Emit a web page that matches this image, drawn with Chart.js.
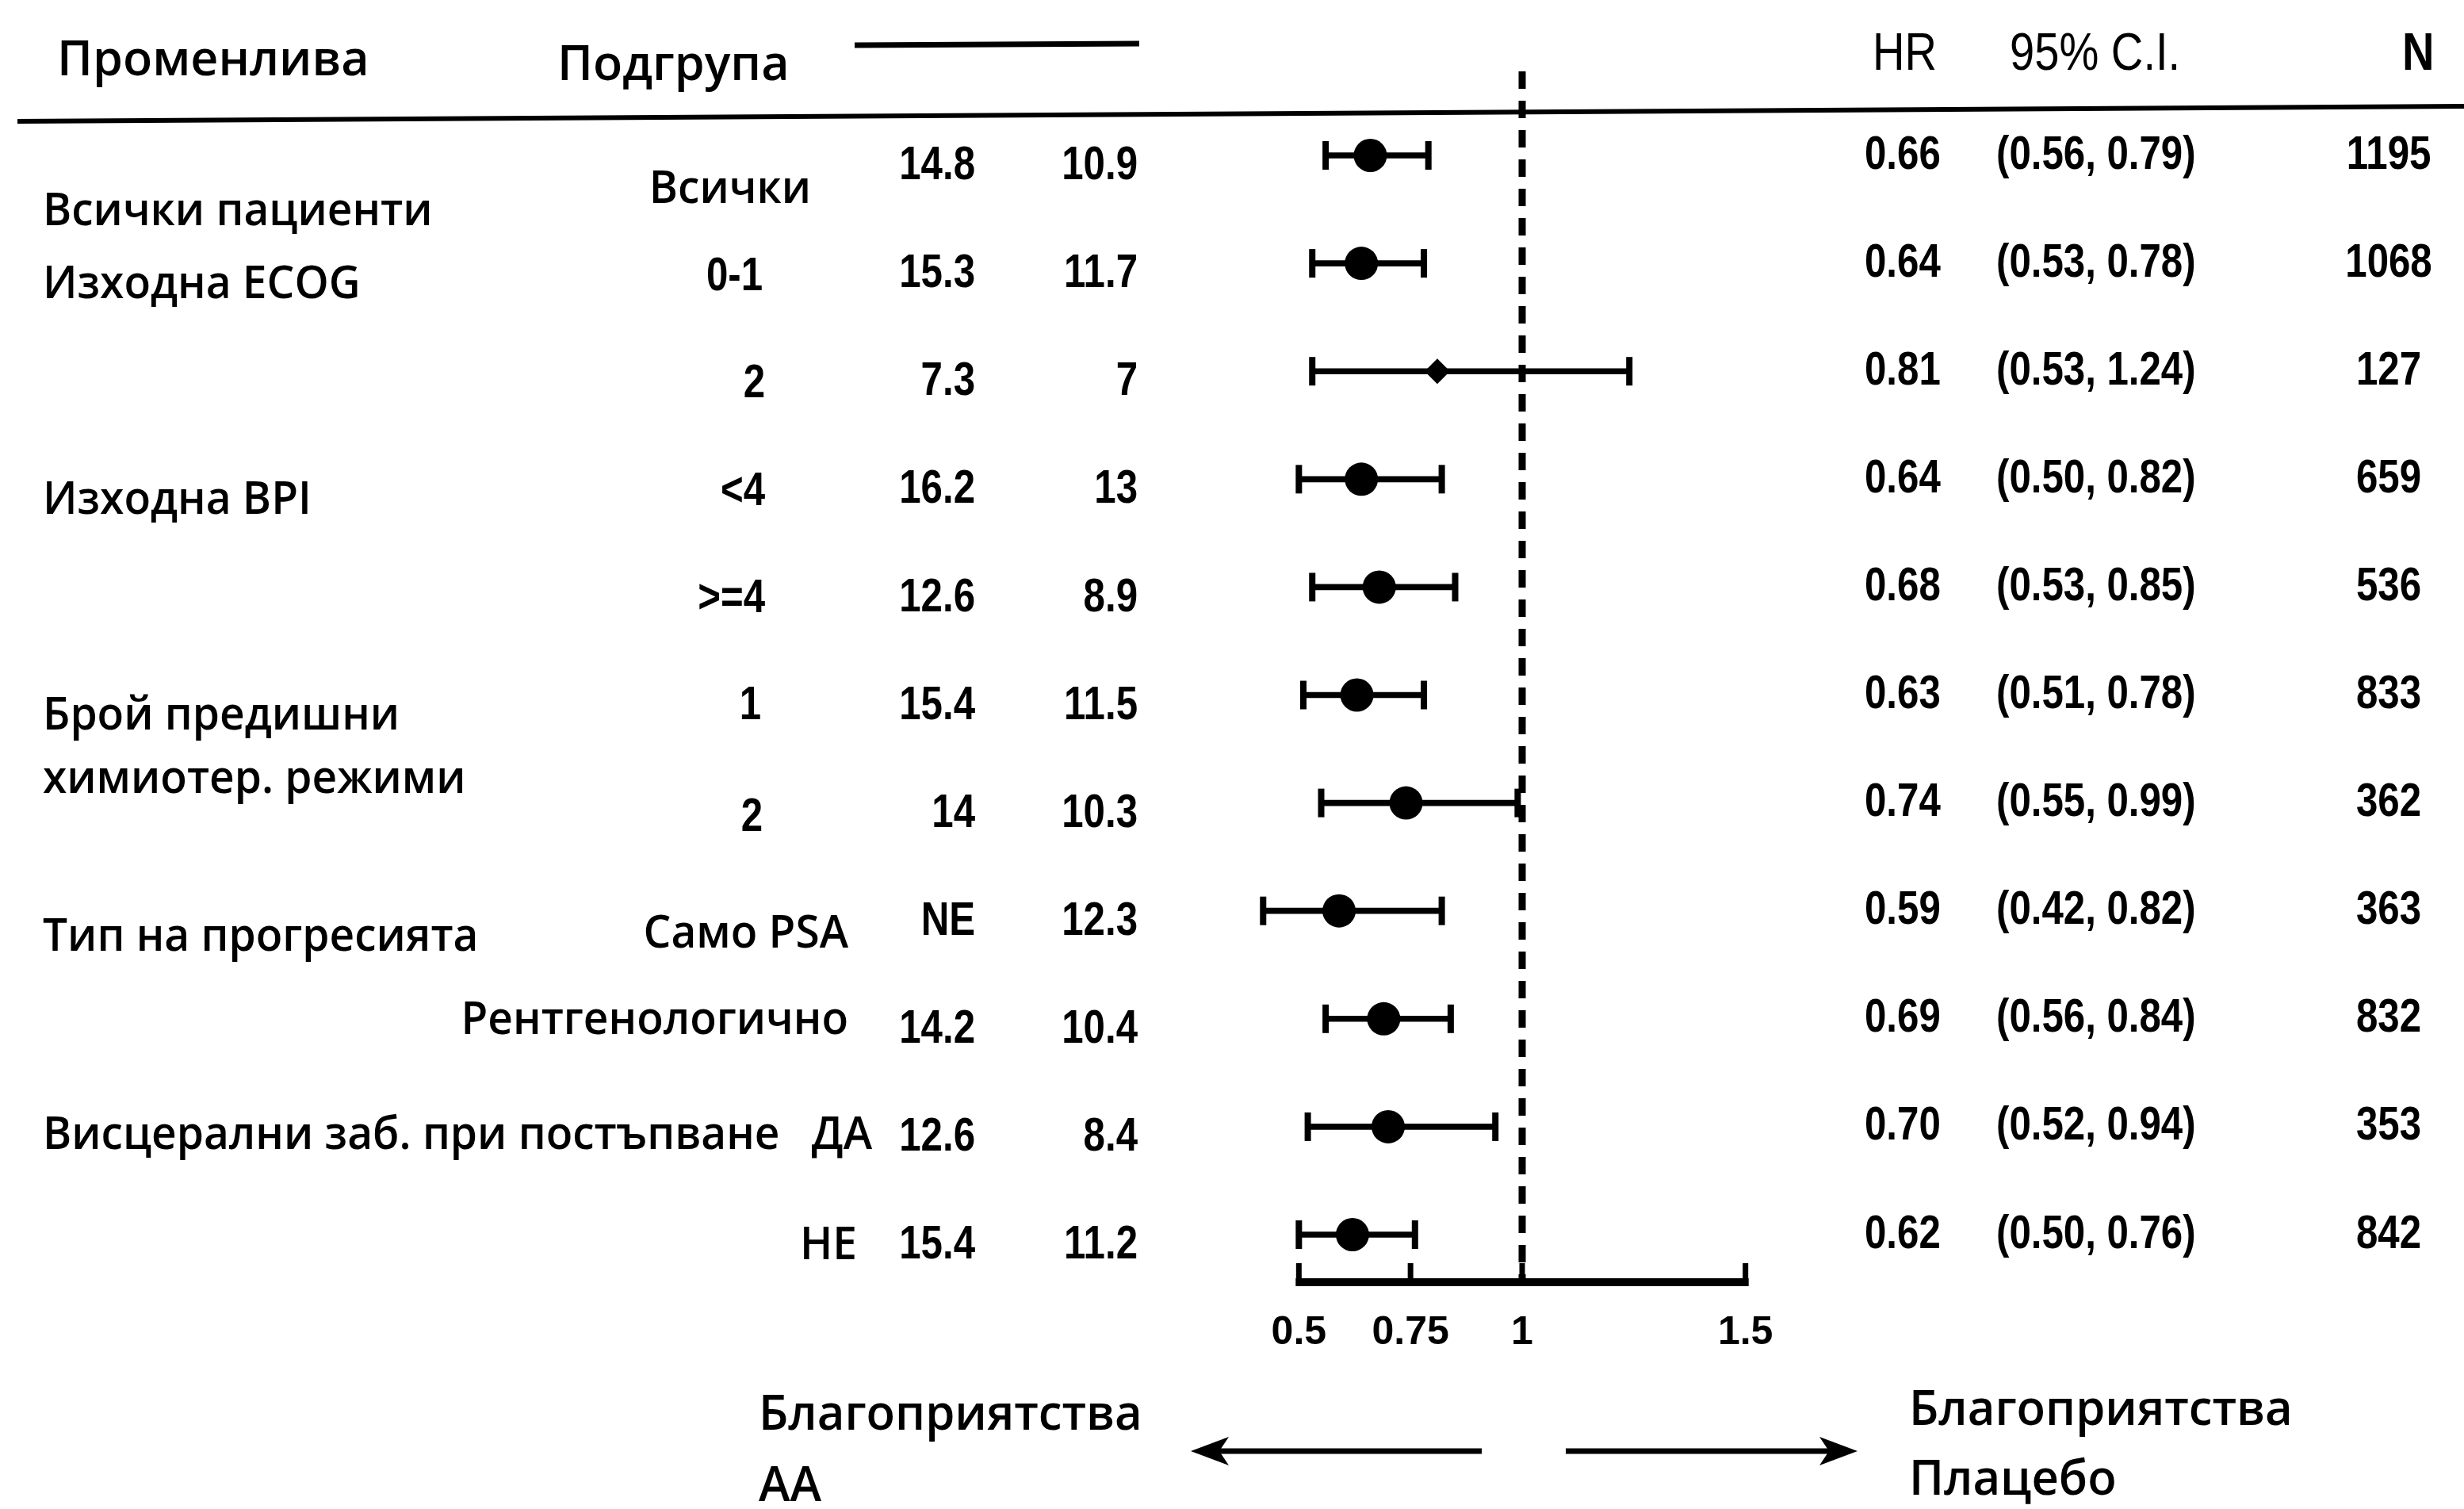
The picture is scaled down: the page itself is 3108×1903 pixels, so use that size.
<!DOCTYPE html>
<html>
<head>
<meta charset="utf-8">
<script src="https://cdn.jsdelivr.net/npm/chart.js@4.4.1/dist/chart.umd.min.js"></script>
<style>
  html, body { margin: 0; background: #fff; }
  #wrap { width: 3108px; height: 1903px; position: relative; }
</style>
</head>
<body>
<div id="wrap"><canvas id="forest"></canvas></div>
<script>
// data
const subgroups = ["Всички", "0-1", "2", "<4", ">=4", "1", "2", "Само PSA", "Рентгенологично", "ДА", "НЕ"];
const variables = ["Всички пациенти", "Изходна ECOG", "Изходна BPI", "Брой предишни", "химиотер. режими", "Тип на прогресията", "Висцерални заб. при постъпване"];
const medianAA = ["14.8", "15.3", "7.3", "16.2", "12.6", "15.4", "14", "NE", "14.2", "12.6", "15.4"];
const medianPlacebo = ["10.9", "11.7", "7", "13", "8.9", "11.5", "10.3", "12.3", "10.4", "8.4", "11.2"];
const hr = [0.66, 0.64, 0.81, 0.64, 0.68, 0.63, 0.74, 0.59, 0.69, 0.70, 0.62];
const ciLow = [0.56, 0.53, 0.53, 0.50, 0.53, 0.51, 0.55, 0.42, 0.56, 0.52, 0.50];
const ciHigh = [0.79, 0.78, 1.24, 0.82, 0.85, 0.78, 0.99, 0.82, 0.84, 0.94, 0.76];
const nPatients = [1195, 1068, 127, 659, 536, 833, 362, 363, 832, 353, 842];
const xTicks = [0.5, 0.75, 1, 1.5];

// layout only (row units / pixels)
const varRow = [0.53, 1.2, 3.2, 5.2, 5.79, 7.25, 9.09];
const subRight = [1023, 962, 965, 965, 965, 960, 962, 1070, 1070, 1100, 1081];
const subDy = [0.32, 0.13, 0.12, 0.12, 0.11, 0.1, 0.14, 0.22, 0.02, 0.09, 0.11];

const rows = hr.map((_, i) => i);
const TEXT = '"Open Sans", "Noto Sans", sans-serif';
const NUM = '"Liberation Sans", Arial, sans-serif';

function txt(ctx, s, x, y, font, align, sx) {
  ctx.save();
  ctx.font = font;
  ctx.fillStyle = '#000';
  ctx.textBaseline = 'middle';
  ctx.textAlign = align;
  ctx.translate(x, y);
  ctx.scale(sx || 1, 1);
  ctx.fillText(s, 0, 0);
  ctx.restore();
}

function line(ctx, x0, y0, x1, y1, w) {
  ctx.lineWidth = w;
  ctx.beginPath();
  ctx.moveTo(x0, y0);
  ctx.lineTo(x1, y1);
  ctx.stroke();
}

function arrow(ctx, from, to, y) {
  const dir = Math.sign(to - from);
  line(ctx, from, y, to - dir * 30, y, 7);
  ctx.beginPath();
  ctx.moveTo(to, y);
  ctx.lineTo(to - dir * 48, y - 18);
  ctx.lineTo(to - dir * 36, y);
  ctx.lineTo(to - dir * 48, y + 18);
  ctx.closePath();
  ctx.fill();
}

const forestDecor = {
  id: 'forestDecor',
  beforeDatasetsDraw(chart) {
    const { ctx, chartArea, scales: { x } } = chart;
    const x1 = x.getPixelForValue(1);
    const ya = chartArea.bottom;
    ctx.save();
    ctx.strokeStyle = '#000';
    // reference line at HR = 1
    ctx.lineWidth = 9;
    ctx.setLineDash([22, 15]);
    ctx.beginPath();
    ctx.moveTo(x1, chartArea.top);
    ctx.lineTo(x1, ya);
    ctx.stroke();
    ctx.setLineDash([]);
    // axis line with upward ticks
    line(ctx, x.getPixelForValue(xTicks[0]) - 4, ya, x.getPixelForValue(xTicks[xTicks.length - 1]) + 4, ya, 10);
    xTicks.forEach(v => {
      const px = x.getPixelForValue(v);
      line(ctx, px, ya + 4, px, ya - 24, 7);
    });
    ctx.restore();
  },
  afterDraw(chart) {
    const { ctx, scales: { y } } = chart;
    const rowY = r => y.getPixelForValue(r);
    const LBL = '600 57px ' + TEXT;
    const LSX = 0.965;
    ctx.save();
    ctx.strokeStyle = '#000';
    ctx.fillStyle = '#000';

    // header
    txt(ctx, 'Променлива', 72, 78, '600 61px ' + TEXT, 'left');
    txt(ctx, 'Подгрупа', 703, 84, '600 61px ' + TEXT, 'left');
    line(ctx, 1078, 57, 1437, 55, 7);
    txt(ctx, 'HR', 2362, 70, '66px ' + NUM, 'left', 0.85);
    txt(ctx, '95% C.I.', 2535, 70, '66px ' + NUM, 'left', 0.85);
    txt(ctx, 'N', 3030, 70, 'bold 66px ' + NUM, 'left', 0.85);
    line(ctx, 22, 153, 3108, 134, 6);

    // variable names
    variables.forEach((v, i) => txt(ctx, v, 54, rowY(varRow[i]), LBL, 'left', LSX));

    // per-row columns
    rows.forEach(i => {
      const s = subgroups[i];
      if (/[А-Яа-я]/.test(s)) {
        txt(ctx, s, subRight[i], rowY(i + subDy[i]), LBL, 'right', LSX);
      } else {
        txt(ctx, s, subRight[i], rowY(i + subDy[i]), 'bold 60px ' + NUM, 'right', 0.82);
      }
      txt(ctx, medianAA[i], 1230, rowY(i + 0.1), 'bold 60px ' + NUM, 'right', 0.82);
      txt(ctx, medianPlacebo[i], 1435, rowY(i + 0.1), 'bold 60px ' + NUM, 'right', 0.82);
      txt(ctx, hr[i].toFixed(2), 2352, rowY(i), 'bold 60px ' + NUM, 'left', 0.82);
      txt(ctx, '(' + ciLow[i].toFixed(2) + ', ' + ciHigh[i].toFixed(2) + ')', 2518, rowY(i), 'bold 60px ' + NUM, 'left', 0.82);
      txt(ctx, String(nPatients[i]), 3013, rowY(i), 'bold 60px ' + NUM, 'center', 0.82);
    });

    // favours arrows
    arrow(ctx, 1869, 1502, 1830);
    arrow(ctx, 1975, 2343, 1830);
    txt(ctx, 'Благоприятства', 957, 1786, '600 61px ' + TEXT, 'left', 0.98);
    txt(ctx, 'АА', 957, 1876, '600 61px ' + TEXT, 'left', 0.98);
    txt(ctx, 'Благоприятства', 2408, 1780, '600 61px ' + TEXT, 'left', 0.98);
    txt(ctx, 'Плацебо', 2408, 1868, '600 61px ' + TEXT, 'left', 0.98);
    ctx.restore();
  }
};

new Chart(document.getElementById('forest'), {
  type: 'bar',
  data: {
    datasets: [
      {
        type: 'scatter',
        label: 'HR',
        data: rows.map(i => ({ x: hr[i], y: i })),
        pointStyle: c => nPatients[c.dataIndex] < 200 ? 'rectRot' : 'circle',
        pointRadius: c => nPatients[c.dataIndex] < 200 ? 16 : 21,
        backgroundColor: '#000',
        borderWidth: 0
      },
      {
        type: 'scatter',
        label: 'CI caps',
        data: rows.flatMap(i => [{ x: ciLow[i], y: i }, { x: ciHigh[i], y: i }]),
        pointStyle: 'line',
        rotation: 90,
        pointRadius: 18,
        borderColor: '#000',
        borderWidth: 8
      },
      {
        label: '95% CI',
        data: rows.map(i => ({ x: [ciLow[i], ciHigh[i]], y: i })),
        backgroundColor: '#000',
        borderWidth: 0,
        barThickness: 7
      }
    ]
  },
  options: {
    indexAxis: 'y',
    responsive: true,
    maintainAspectRatio: false,
    devicePixelRatio: 1,
    animation: false,
    layout: { padding: { left: 1582, right: 850, top: 90, bottom: 106 } },
    plugins: { legend: { display: false }, tooltip: { enabled: false } },
    scales: {
      x: {
        type: 'linear',
        min: 0.4,
        max: 1.6,
        offset: false,
        grid: { display: false, drawTicks: false },
        border: { display: false },
        afterBuildTicks: s => { s.ticks = xTicks.map(v => ({ value: v })); },
        afterFit: s => { s.height = 180; },
        ticks: {
          color: '#000',
          padding: 34,
          maxRotation: 0,
          font: { family: NUM, weight: 'bold', size: 50 },
          callback: v => String(v)
        }
      },
      y: {
        type: 'linear',
        reverse: true,
        offset: false,
        min: -0.779,
        max: 10.441,
        display: false
      }
    }
  },
  plugins: [forestDecor]
});
</script>
</body>
</html>
